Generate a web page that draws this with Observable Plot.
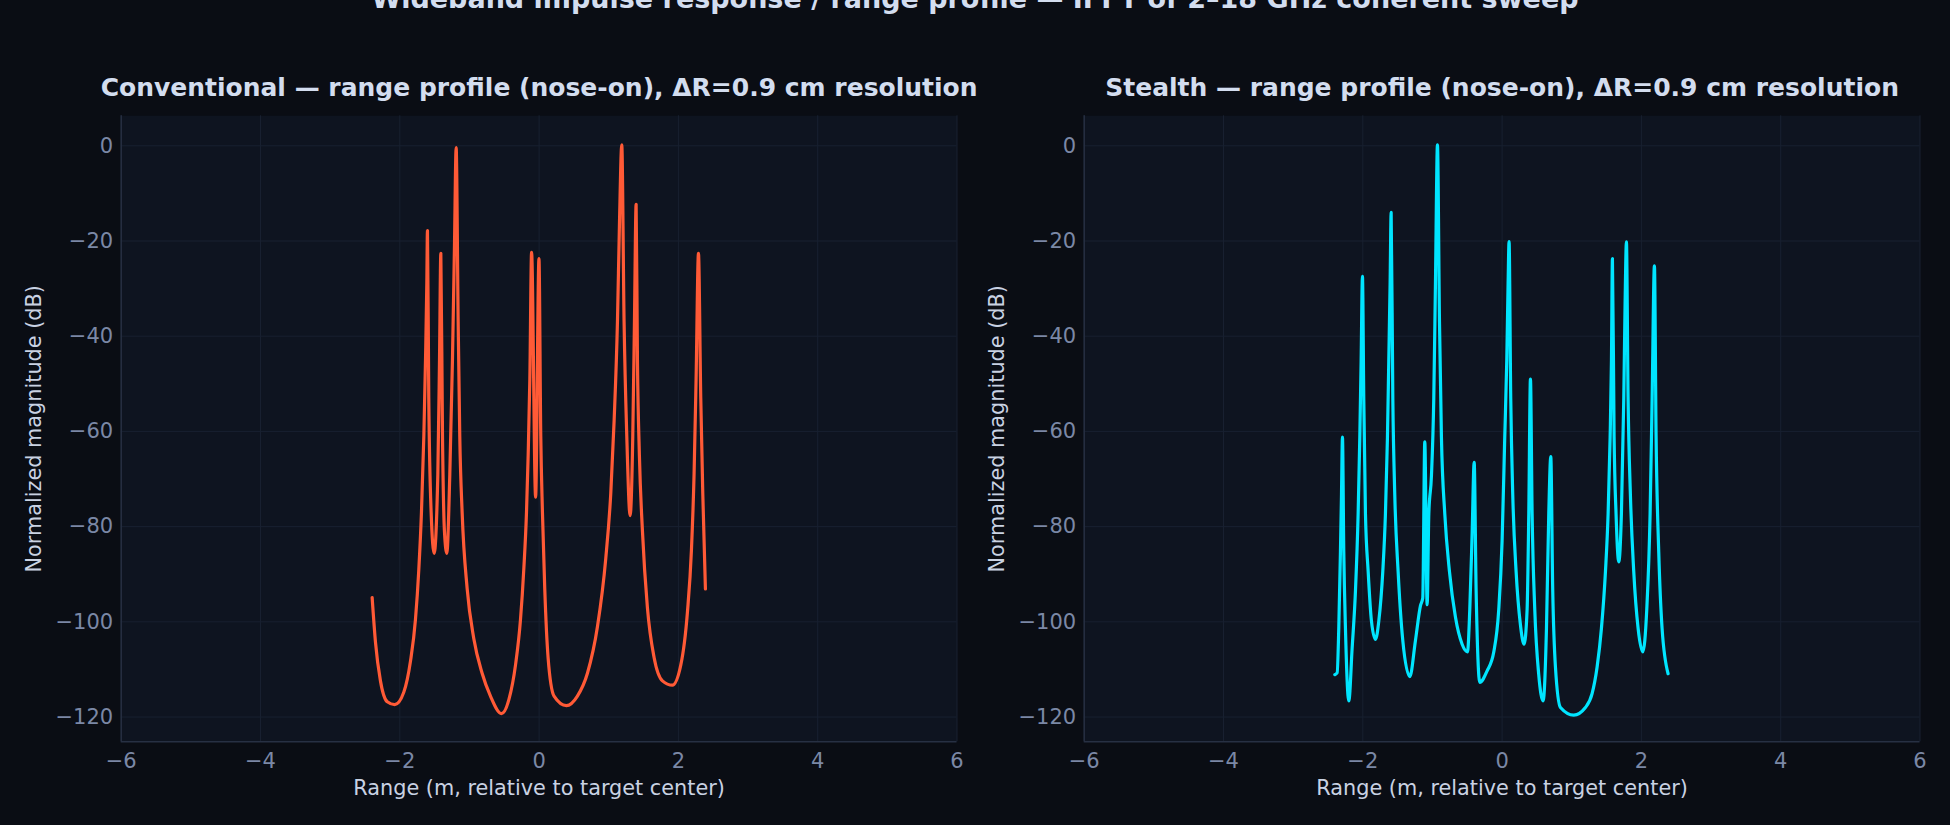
<!DOCTYPE html>
<html><head><meta charset="utf-8">
<script src="https://cdn.jsdelivr.net/npm/d3@7"></script>
<script src="https://cdn.jsdelivr.net/npm/@observablehq/plot@0.6"></script>
<style>
html,body{margin:0;padding:0;background:#0a0d14;}
#fig{position:relative;width:1950px;height:825px;background:#0a0d14;overflow:hidden;font-family:"DejaVu Sans",sans-serif;}
#title{position:absolute;left:0;width:1950px;text-align:center;top:-15.5px;font-size:27px;font-weight:bold;color:#d3ddef;line-height:27px;white-space:nowrap;}
.panel{position:absolute;top:0;}
</style></head><body><div id="fig"><div id="title">Wideband impulse response / range profile — IFFT of 2–18 GHz coherent sweep</div></div>
<script>
const xTicks = [-6, -4, -2, 0, 2, 4, 6];
const yTicks = [0, -20, -40, -60, -80, -100, -120];
const xDomain = [-6, 6];
const yDomain = [-125.2, 6.3];
const xLabel = "Range (m, relative to target center)";
const yLabel = "Normalized magnitude (dB)";
const titles = ["Conventional — range profile (nose-on), ΔR=0.9 cm resolution",
                "Stealth — range profile (nose-on), ΔR=0.9 cm resolution"];

const convX = [-2.397,-2.349,-2.278,-2.18,-2.072,-1.943,-1.847,-1.775,-1.727,-1.689,-1.655,-1.631,-1.612,-1.603,
  -1.584,-1.55,-1.507,-1.454,-1.43,-1.411,-1.387,-1.359,-1.325,-1.282,-1.244,-1.215,-1.191,
  -1.162,-1.139,-1.105,-1.033,-0.938,-0.818,-0.698,-0.54,-0.435,-0.339,-0.267,-0.22,-0.181,-0.157,-0.133,-0.108,
  -0.05,-0.002,0.024,0.048,0.081,0.129,0.215,0.392,0.55,0.694,0.838,0.957,1.029,1.077,1.125,1.153,1.187,
  1.22,1.259,1.307,1.345,1.369,1.393,1.412,1.44,1.484,1.555,1.651,1.771,1.914,2.034,2.13,2.187,2.225,2.254,2.288,
  2.321,2.35,2.388];
const convY = [-94.9,-104.3,-112.4,-116.8,-117.4,-114.8,-108.3,-99.5,-89.0,-77.0,-61.0,-45.0,-28.9,-17.8,
  -53.0,-77.0,-85.6,-69.0,-45.0,-22.6,-61.0,-81.0,-85.6,-69.0,-45.0,-20.9,-0.4,
  -36.9,-61.0,-77.0,-93.0,-103.5,-110.8,-115.6,-119.3,-116.4,-109.1,-99.5,-89.0,-77.0,-65.0,-49.0,-22.4,
  -73.8,-23.7,-61.0,-77.0,-93.0,-107.5,-115.6,-117.6,-115.6,-110.8,-101.0,-86.7,-73.0,-57.8,-36.9,-16.9,0.2,
  -36.9,-61.0,-77.7,-61.0,-36.9,-12.3,-45.0,-65.0,-81.0,-97.0,-107.5,-112.4,-113.3,-109.1,-97.9,-85.0,-69.0,-49.0,-22.6,
  -53.0,-73.0,-93.1];

const stealthX = [-2.402,-2.368,-2.345,-2.321,-2.306,-2.292,-2.273,-2.249,-2.201,-2.153,-2.105,-2.067,-2.043,-2.024,-2.005,
  -1.986,-1.962,-1.923,-1.876,-1.818,-1.77,-1.713,-1.675,-1.646,-1.627,-1.608,-1.593,
  -1.569,-1.541,-1.493,-1.426,-1.325,-1.244,-1.172,-1.139,-1.11,-1.076,-1.052,-1.014,-0.981,-0.957,-0.928,
  -0.899,-0.871,-0.823,-0.756,-0.67,-0.574,-0.497,-0.464,-0.43,-0.401,-0.373,-0.32,-0.215,-0.119,-0.048,0.0,0.038,0.067,0.086,0.1,
  0.124,0.153,0.201,0.263,0.316,0.359,0.383,0.407,0.431,0.469,0.526,0.589,0.637,0.67,0.699,
  0.727,0.766,0.838,1.029,1.196,1.292,1.364,1.426,1.484,1.522,1.551,1.57,1.584,
  1.608,1.636,1.675,1.713,1.747,1.766,1.785,1.809,1.842,1.89,1.953,2.02,2.077,2.125,2.154,2.187,
  2.211,2.249,2.297,2.383];
const stealthY = [-111.1,-110.7,-101.4,-85.3,-73.3,-61.2,-85.3,-101.4,-116.6,-105.5,-93.4,-77.3,-61.2,-45.1,-27.4,
  -53.1,-77.3,-89.4,-99.8,-103.7,-99.8,-89.4,-77.3,-61.2,-45.1,-29.0,-14.0,
  -53.1,-73.3,-89.4,-103.9,-111.5,-103.9,-96.6,-95.0,-62.2,-96.4,-77.3,-69.2,-53.1,-29.0,0.2,
  -37.0,-61.2,-77.3,-89.4,-99.0,-104.7,-106.3,-97.4,-81.3,-66.5,-93.4,-112.7,-110.3,-106.3,-97.4,-83.0,-61.2,-45.1,-29.0,-20.1,
  -53.1,-73.3,-89.4,-100.6,-104.7,-97.4,-77.3,-49.0,-77.3,-97.4,-111.1,-116.6,-101.4,-77.3,-65.3,
  -93.4,-109.5,-118.0,-119.6,-118.0,-115.1,-109.5,-101.4,-89.4,-77.3,-61.2,-45.1,-23.7,
  -61.2,-77.3,-87.4,-77.3,-53.1,-33.0,-20.2,-53.1,-73.3,-89.4,-101.4,-106.3,-97.4,-77.3,-53.1,-25.2,
  -61.2,-85.3,-101.4,-110.9];

const colors = ["#ff5a36", "#00e5ff"];

function panel(xs, ys, color, title, ml, mr) {
  const data = xs.map((x, i) => ({x, y: ys[i]}));
  return Plot.plot({
    width: 975, height: 825,
    marginLeft: ml, marginRight: mr, marginTop: 115.3, marginBottom: 83.7,
    x: {domain: xDomain, ticks: xTicks, label: null},
    y: {domain: yDomain, ticks: yTicks, label: null},
    style: {background: "transparent", color: "#7b88a6", fontFamily: "DejaVu Sans", fontSize: "20.8px", overflow: "visible"},
    marks: [
      Plot.frame({fill: "#0e1420", stroke: null}),
      Plot.gridX(xTicks, {stroke: "#182030", strokeOpacity: 1, strokeWidth: 1}),
      Plot.gridY(yTicks, {stroke: "#182030", strokeOpacity: 1, strokeWidth: 1}),
      Plot.ruleX([xDomain[0]], {stroke: "#273043", strokeWidth: 1.4}),
      Plot.ruleY([yDomain[0]], {stroke: "#273043", strokeWidth: 1.4}),
      Plot.axisX(xTicks, {tickSize: 0, tickPadding: 11, fontSize: 21, fill: "#7b88a6", label: null}),
      Plot.axisY(yTicks, {tickSize: 0, tickPadding: 8, fontSize: 21, fill: "#7b88a6", label: null}),
      Plot.line(data, {x: "x", y: "y", stroke: color, strokeWidth: 3.2, curve: "monotone-x"}),
      Plot.text([title], {frameAnchor: "top", dy: -20.3, lineAnchor: "bottom", textAnchor: "middle", fontSize: 25, fontWeight: "bold", fill: "#d3ddef"}),
      Plot.text([xLabel], {frameAnchor: "bottom", dy: 52.7, lineAnchor: "bottom", textAnchor: "middle", fontSize: 20.8, fill: "#c9d2e3"}),
      Plot.text([yLabel], {frameAnchor: "left", dx: -86.7, rotate: -90, textAnchor: "middle", lineAnchor: "middle", fontSize: 20.8, fill: "#c9d2e3"})
    ]
  });
}

const fig = document.getElementById("fig");
const p1 = panel(convX, convY, colors[0], titles[0], 120.7, 18.5);
p1.classList.add("panel"); p1.style.left = "0px";
fig.appendChild(p1);
const p2 = panel(stealthX, stealthY, colors[1], titles[1], 108.7, 30.5);
p2.classList.add("panel"); p2.style.left = "975px";
fig.appendChild(p2);
</script></body></html>
